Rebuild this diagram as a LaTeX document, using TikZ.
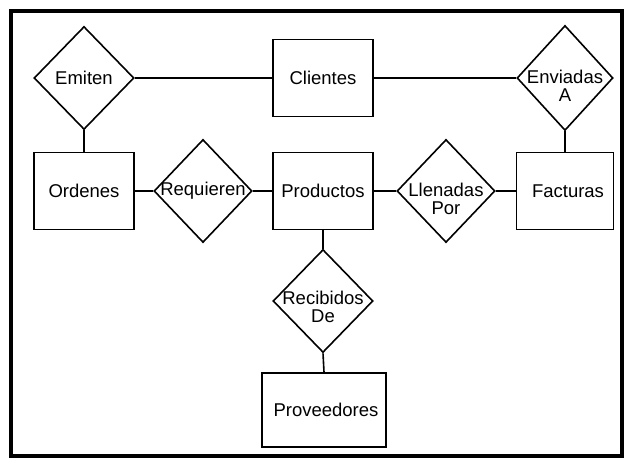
\documentclass[tikz,border=0pt]{standalone}
\usepackage{fontspec}
\setmainfont{Liberation Sans}
\usetikzlibrary{shapes.geometric}
\begin{document}
\begin{tikzpicture}[x=1pt,y=-1pt,
  every node/.style={font=\fontsize{18.5}{18}\selectfont},
  entity/.style={draw, line width=1.6pt, rectangle, inner sep=0pt,
                 minimum width=100pt, minimum height=77pt},
  relation/.style={draw, line width=1.6pt, diamond, inner sep=0pt,
                   minimum width=100pt, minimum height=103pt},
  twoline/.style={align=center, yshift=-8pt},
  link/.style={line width=1.6pt}]
  \useasboundingbox (0,0) rectangle (626,465);
  % outer frame
  \draw[line width=4pt] (10.5,11) rectangle (621.5,455.5);

  % entities
  \node[entity] (clientes) at (323,78) {Clientes};
  \node[entity] (ordenes) at (84,191) {Ordenes};
  \node[entity] (productos) at (323,191) {Productos};
  \node[entity, minimum width=97pt] (facturas) at (565,191) {\hspace{6pt}Facturas};
  \node[entity, minimum width=124pt, minimum height=74pt] (proveedores) at (324,410) {\hspace{4pt}Proveedores};

  % relationships
  \node[relation, label={center:Emiten}] (emiten) at (84,78) {};
  \node[relation, minimum width=96pt, minimum height=105pt,
        label={[twoline]center:Enviadas\\A}] (enviadas) at (565,78) {};
  \node[relation, minimum width=98pt, label={center:Requieren}] (requieren) at (203,191) {};
  \node[relation, minimum width=98pt,
        label={[twoline]center:Llenadas\\Por}] (llenadas) at (446,191) {};
  \node[relation, label={[twoline, yshift=2pt]center:Recibidos\\De}] (recibidos) at (323,301) {};

  % connectors
  \draw[link] (emiten.east) -- (clientes.west);
  \draw[link] (clientes.east) -- (enviadas.west);
  \draw[link] (emiten.south) -- (ordenes.north);
  \draw[link] (enviadas.south) -- (facturas.north);
  \draw[link] (ordenes.east) -- (requieren.west);
  \draw[link] (requieren.east) -- (productos.west);
  \draw[link] (productos.east) -- (llenadas.west);
  \draw[link] (llenadas.east) -- (facturas.west);
  \draw[link] (productos.south) -- (recibidos.north);
  \draw[link] (recibidos.south) -- (proveedores.north);
\end{tikzpicture}
\end{document}
